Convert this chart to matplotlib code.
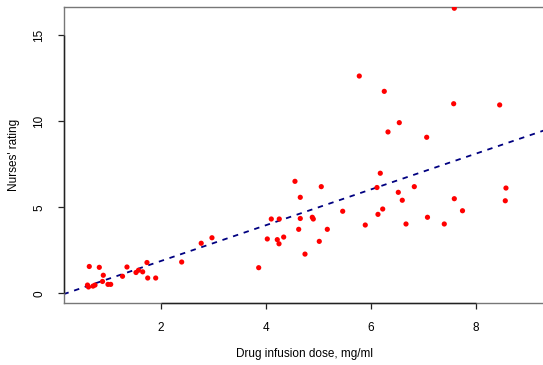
import matplotlib
matplotlib.use("Agg")
import matplotlib.pyplot as plt

plt.rcParams['font.family'] = ['Liberation Sans', 'DejaVu Sans']

dose = [0.600, 0.619, 0.634, 0.705, 0.743, 0.825, 0.901, 0.886, 0.990, 1.042,
        1.267, 1.352, 1.524, 1.571, 1.651, 1.733, 1.747, 1.899, 2.394, 2.766,
        2.971, 3.861, 4.025, 4.101, 4.215, 4.248, 4.253, 4.337, 4.552, 4.653,
        4.653, 4.623, 4.743, 4.882, 4.901, 5.015, 5.053, 5.168, 5.461, 5.777,
        5.891, 6.114, 6.133, 6.177, 6.223, 6.253, 6.324, 6.520, 6.539, 6.596,
        6.667, 6.825, 7.061, 7.076, 7.396, 7.575, 7.587, 7.587, 7.743, 8.451,
        8.558, 8.571]
rating = [0.48, 0.37, 1.56, 0.42, 0.48, 1.51, 1.05, 0.69, 0.52, 0.52,
          0.99, 1.53, 1.21, 1.34, 1.25, 1.79, 0.89, 0.89, 1.82, 2.91,
          3.23, 1.49, 3.16, 4.32, 3.12, 2.88, 4.32, 3.27, 6.51, 5.58,
          4.35, 3.72, 2.28, 4.42, 4.32, 3.02, 6.20, 3.72, 4.77, 12.63,
          3.97, 6.15, 4.59, 6.98, 4.90, 11.74, 9.38, 5.87, 9.92, 5.41,
          4.03, 6.20, 9.07, 4.42, 4.03, 11.02, 16.57, 5.50, 4.80, 10.95,
          5.38, 6.12]

fit_intercept = -0.20
fit_slope = 1.04

x_ticks = [2, 4, 6, 8]
y_ticks = [0, 5, 10, 15]

W, H = 543, 365
fig = plt.figure(figsize=(W / 100, H / 100), dpi=100)
left, right, top, bottom = 63.5, 544.5, 6.7, 303.3
ax = fig.add_axes([left / W, 1 - bottom / H, (right - left) / W, (bottom - top) / H])

xlim = (0.143, 9.305)
ylim = (-0.58, 16.66)
ax.set_xlim(*xlim)
ax.set_ylim(*ylim)

ax.scatter(dose, rating, s=14, color='#ff0000', edgecolors='none', zorder=3)
ax.axline((0, fit_intercept), slope=fit_slope, color='#000080', lw=1.3,
          linestyle=(0, (3.0, 3.2)), zorder=2)

for sp in ax.spines.values():
    sp.set_color('#777777')
    sp.set_linewidth(1.0)
ax.plot([x_ticks[0], x_ticks[-1]], [ylim[0], ylim[0]], color='#222222', lw=1.0,
        clip_on=False, zorder=5, solid_capstyle='butt')
ax.plot([xlim[0], xlim[0]], [y_ticks[0], y_ticks[-1]], color='#222222', lw=1.0,
        clip_on=False, zorder=5, solid_capstyle='butt')

ax.set_xticks(x_ticks)
ax.set_yticks(y_ticks)
ax.set_xticklabels([str(v) for v in x_ticks])
ax.set_yticklabels([str(v) for v in y_ticks], rotation=90, va='center')
ax.tick_params(axis='both', direction='out', length=4.0, width=0.9,
               color='#222222', labelsize=8.5)
ax.tick_params(axis='x', pad=9.5)
ax.tick_params(axis='y', pad=9.0)

fig.text(305 / W, 1 - 354 / H, 'Drug infusion dose, mg/ml', ha='center',
         va='center', fontsize=8.5)
fig.text(14 / W, 1 - 155 / H, "Nurses' rating", ha='center', va='center',
         rotation=90, fontsize=8.5)

fig.savefig('out.png', dpi=100)
